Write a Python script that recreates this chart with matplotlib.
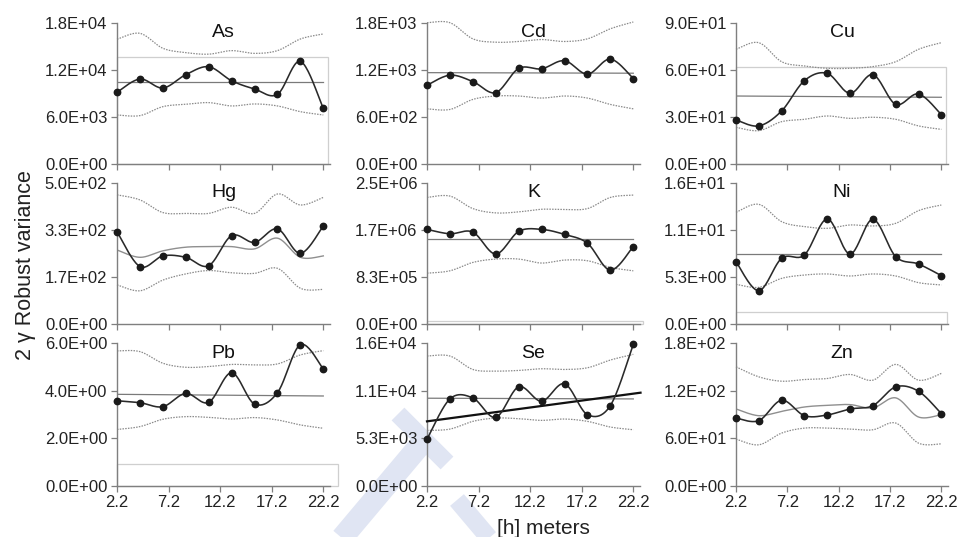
import numpy as np
import matplotlib
matplotlib.use('Agg')
import matplotlib.pyplot as plt
from matplotlib.patches import Rectangle
from matplotlib.lines import Line2D
from matplotlib.ticker import FuncFormatter

plt.rcParams['font.family'] = ['Liberation Sans', 'DejaVu Sans']

W, H = 961, 537

elements = ['As', 'Cd', 'Cu', 'Hg', 'K', 'Ni', 'Pb', 'Se', 'Zn']
lags = np.linspace(2.2, 22.2, 10)
xticks = [2.2, 7.2, 12.2, 17.2, 22.2]

ymax = {'As': 1.8e4, 'Cd': 1.8e3, 'Cu': 90, 'Hg': 500, 'K': 2.5e6,
        'Ni': 16, 'Pb': 6, 'Se': 1.6e4, 'Zn': 180}

# robust variogram estimates (2 gamma) per lag class
gamma = {
    'As': [9150, 10840, 9700, 11390, 12400, 10620, 9570, 8890, 13090, 7110],
    'Cd': [1005, 1133, 1052, 911, 1219, 1214, 1317, 1146, 1338, 1090],
    'Cu': [28.2, 24.4, 33.9, 53.2, 57.8, 45.1, 57.0, 38.1, 44.7, 31.6],
    'Hg': [328, 204, 242, 237, 207, 314, 290, 338, 251, 348],
    'K': [1.681e6, 1.603e6, 1.633e6, 1.244e6, 1.645e6, 1.681e6, 1.591e6,
          1.435e6, 0.957e6, 1.376e6],
    'Ni': [7.09, 3.79, 7.47, 7.85, 11.94, 7.96, 11.90, 7.66, 6.82, 5.50],
    'Pb': [3.58, 3.50, 3.33, 3.89, 3.51, 4.76, 3.44, 3.92, 5.94, 4.92],
    'Se': [5230, 9750, 9860, 7680, 11110, 9490, 11450, 7980, 9000, 15890],
    'Zn': [85.5, 82.2, 108.0, 88.5, 89.4, 97.0, 101.2, 124.9, 119.4, 91.1],
}

# upper / lower envelopes
env_hi = {
    'As': [15900, 16650, 14750, 14200, 14000, 14450, 14100, 14450, 15930, 16570],
    'Cd': [1800, 1800, 1595, 1552, 1561, 1586, 1561, 1595, 1723, 1809],
    'Cu': [73.1, 77.3, 65.2, 62.5, 61.0, 61.0, 62.1, 65.2, 73.1, 77.3],
    'Hg': [459, 441, 396, 393, 393, 415, 393, 462, 423, 450],
    'K': [2.249e6, 2.273e6, 2.051e6, 1.974e6, 1.992e6, 2.039e6, 2.034e6,
          2.051e6, 2.249e6, 2.291e6],
    'Ni': [12.70, 13.61, 11.64, 11.07, 10.88, 11.26, 11.15, 11.45, 12.89, 13.53],
    'Pb': [5.68, 5.65, 5.16, 4.99, 5.02, 5.11, 5.09, 5.13, 5.51, 5.69],
    'Se': [14570, 14570, 13060, 12880, 12950, 13140, 13060, 13250, 14120, 14760],
    'Zn': [150.3, 137.6, 132.1, 134.2, 135.5, 140.6, 133.4, 153.3, 133.4, 141.9],
}
env_lo = {
    'As': [6270, 6190, 7330, 7630, 7840, 7420, 7670, 7420, 6690, 6270],
    'Cd': [705, 697, 825, 868, 868, 842, 868, 842, 761, 705],
    'Cu': [23.5, 21.4, 27.1, 28.6, 30.7, 29.2, 29.9, 28.6, 24.4, 22.2],
    'Hg': [139, 118, 156, 178, 190, 182, 180, 198, 127, 123],
    'K': [0.903e6, 0.945e6, 1.094e6, 1.154e6, 1.154e6, 1.083e6, 1.136e6,
          1.124e6, 1.005e6, 0.945e6],
    'Ni': [4.51, 4.17, 5.19, 5.57, 5.69, 5.46, 5.69, 5.46, 4.70, 4.44],
    'Pb': [2.37, 2.49, 2.80, 2.91, 2.88, 2.81, 2.87, 2.77, 2.56, 2.42],
    'Se': [6210, 6360, 7230, 7600, 7530, 7340, 7490, 7230, 6590, 6290],
    'Zn': [58.9, 51.7, 66.5, 72.8, 72.8, 71.6, 70.7, 79.2, 53.8, 52.9],
}

# sill (value at first and last lag)
sill = {
    'As': [10420, 10420], 'Cd': [1165, 1158], 'Cu': [43.4, 42.6],
    'K': [1.513e6, 1.513e6], 'Ni': [7.92, 7.92], 'Pb': [3.85, 3.78],
    'Se': [9830, 9750],
}
# non-flat reference curve
ref_curve = {
    'Hg': [263, 237, 260, 273, 275, 275, 267, 305, 237, 242],
    'Zn': [97.0, 88.5, 94.0, 99.5, 101.6, 102.5, 98.3, 111.0, 86.8, 89.8],
}
# linear trend for Se (x range, values)
se_trend_x = [2.2, 22.9]
se_trend_y = [7230, 10450]

# plot-area boxes left over in some panels: (right x, top y)
frame_box = {'As': (22.7, 13670), 'Cu': (22.65, 62.1), 'Ni': (22.8, 1.4),
             'Pb': (23.65, 0.91), 'K': (23.1, 5e4)}


def smooth(x, y, n=24):
    # bezier smoothing through every point (spreadsheet style)
    P = np.column_stack([x, y]).astype(float)
    P = np.vstack([P[:1], P, P[-1:]])
    t = np.linspace(0, 1, n)[:, None]
    out = []
    for k in range(len(x) - 1):
        p0, p1 = P[k + 1], P[k + 2]
        c1 = p0 + (p1 - P[k]) / 6
        c2 = p1 - (P[k + 3] - p0) / 6
        seg = ((1 - t) ** 3) * p0 + 3 * ((1 - t) ** 2) * t * c1 \
            + 3 * (1 - t) * t ** 2 * c2 + t ** 3 * p1
        out.append(seg if k == 0 else seg[1:])
    out = np.vstack(out)
    return out[:, 0], out[:, 1]


cols_px = [(117, 330), (427, 640), (736, 948)]
rows_px = [(22.7, 164.3), (183.3, 324.0), (343.3, 485.7)]

fig = plt.figure(figsize=(W / 100, H / 100), dpi=100)

# faint watermark strokes behind the panels
for (x0, y0), (x1, y1), lw in [((398, 414), (447, 463), 13),
                               ((426, 438), (336, 545), 16),
                               ((457, 500), (495, 545), 13)]:
    fig.add_artist(Line2D([x0 / W, x1 / W], [1 - y0 / H, 1 - y1 / H],
                          color='#e0e5f3', lw=lw, solid_capstyle='butt',
                          zorder=-1))

sci = FuncFormatter(lambda v, p: f'{v:.1E}')
grey = '#8a8a8a'

for i, el in enumerate(elements):
    r, c = divmod(i, 3)
    (xl, xr), (yt, yb) = cols_px[c], rows_px[r]
    ax = fig.add_axes([xl / W, 1 - yb / H, (xr - xl) / W, (yb - yt) / H])
    ax.set_facecolor('none')
    top = ymax[el]

    if el in frame_box:
        bx, by = frame_box[el]
        ax.add_patch(Rectangle((2.2, 0), bx - 2.2, by, facecolor='none',
                               edgecolor='#cfcfcf', lw=0.9, clip_on=False,
                               zorder=1))

    for env in (env_hi, env_lo):
        sx, sy = smooth(lags, env[el])
        ax.plot(sx, sy, color=grey, lw=0.9, ls=(0, (1.2, 1.0)), zorder=2,
                clip_on=False)

    if el in sill:
        ax.plot([lags[0], lags[-1]], sill[el], color='#7a7a7a', lw=0.9, zorder=2)
    if el in ref_curve:
        sx, sy = smooth(lags, ref_curve[el])
        ax.plot(sx, sy, color='#8f8f8f', lw=1.0, zorder=2)
    if el == 'Se':
        ax.plot(se_trend_x, se_trend_y, color='#111111', lw=1.6, zorder=3,
                clip_on=False)

    sx, sy = smooth(lags, gamma[el])
    ax.plot(sx, sy, color='#2a2a2a', lw=1.15, zorder=4, clip_on=False)
    ax.plot(lags, gamma[el], 'o', color='#1a1a1a', ms=4.6, zorder=5,
            clip_on=False)

    ax.set_xlim(2.2, 22.85)
    ax.set_ylim(0, top)
    ax.set_xticks(xticks)
    ax.set_xticklabels([f'{v:.1f}' for v in xticks])
    ax.set_yticks(np.linspace(0, top, 4))
    ax.yaxis.set_major_formatter(sci)
    for s in ['top', 'right']:
        ax.spines[s].set_visible(False)
    for s in ['left', 'bottom']:
        ax.spines[s].set_color('#7f7f7f')
        ax.spines[s].set_linewidth(1.0)
    ax.tick_params(direction='out', length=4, width=0.9, color='#7f7f7f',
                   labelsize=12, labelcolor='#222222', pad=3)
    ax.tick_params(axis='x', labelbottom=(r == 2))
    ax.text(0.5, 0.90, el, transform=ax.transAxes, ha='center',
            va='baseline', fontsize=14, color='#111111')

fig.text(26 / W, 1 - 265 / H, '2 \u03b3 Robust variance', rotation=90,
         ha='center', va='center', fontsize=15.5, color='#222222')
fig.text(543 / W, 1 - 534 / H, '[h] meters', ha='center', va='baseline',
         fontsize=15, color='#222222')

fig.savefig('out.png', dpi=100)
plt.close()
